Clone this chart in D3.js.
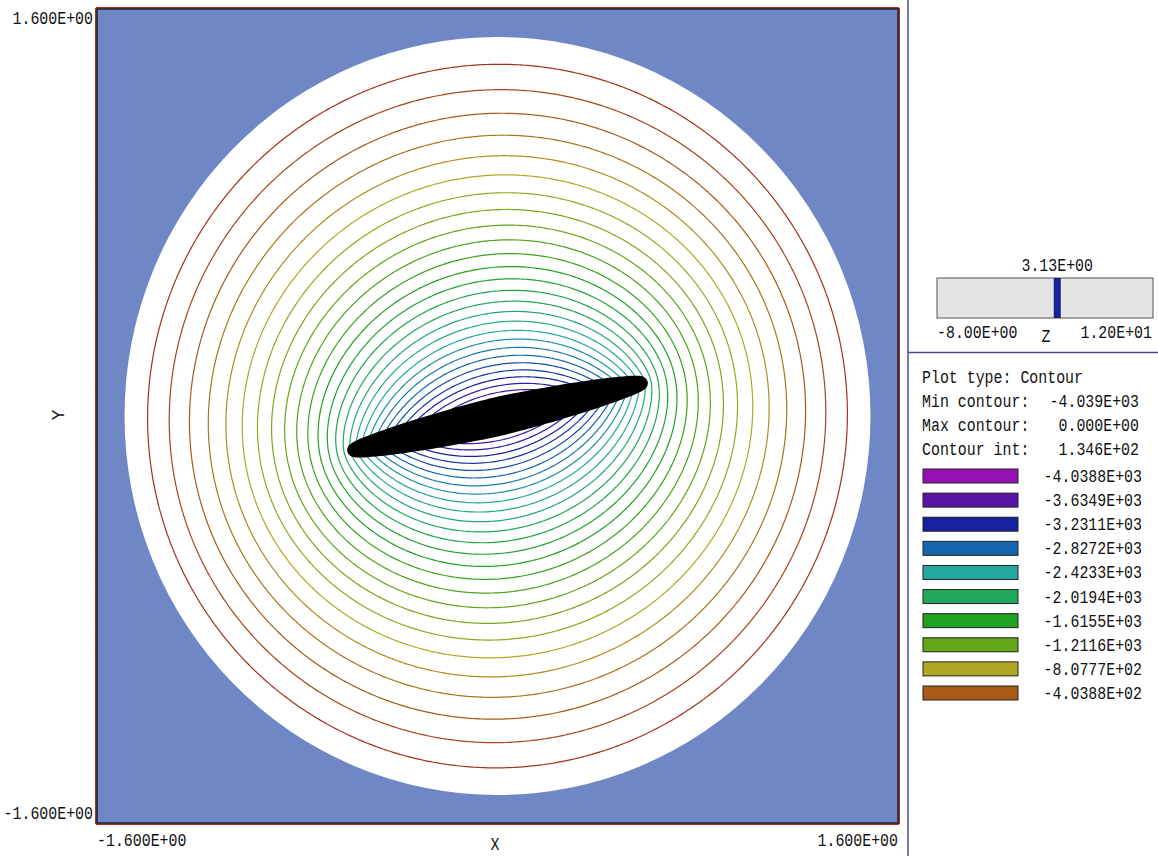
<!DOCTYPE html>
<html>
<head>
<meta charset="utf-8">
<script src="https://cdn.jsdelivr.net/npm/d3@7"></script>
<style>
  html, body { margin: 0; padding: 0; background: #ffffff; }
  svg { display: block; }
  text { font-family: "Liberation Mono", "DejaVu Sans Mono", monospace; font-size: 17.5px; fill: #111111; }
</style>
</head>
<body>
<svg id="chart" width="1158" height="856"></svg>
<script>
// ---- data ----
const xDomain = [-1.6, 1.6];
const yDomain = [-1.6, 1.6];
const xTickLabels = ["-1.600E+00", "1.600E+00"];
const yTickLabels = ["-1.600E+00", "1.600E+00"];

const contourMin = -4038.8;
const contourMax = 0.0;
const contourIntervals = 30;          // contour int = 1.346E+02

const legendValues = [-4038.8, -3634.9, -3231.1, -2827.2, -2423.3, -2019.4, -1615.5, -1211.6, -807.77, -403.88];
const legendLabels = ["-4.0388E+03", "-3.6349E+03", "-3.2311E+03", "-2.8272E+03", "-2.4233E+03",
                      "-2.0194E+03", "-1.6155E+03", "-1.2116E+03", "-8.0777E+02", "-4.0388E+02"];
const legendColors = ["#9412b3", "#5a15a6", "#1621a2", "#1566ae", "#25a8a0",
                      "#22a85c", "#1fa21f", "#63a618", "#b0a822", "#a85a16"];
const zeroLevelColor = "#a31d1d";

const infoLines = [["Plot type: Contour", ""],
                   ["Min contour:", "-4.039E+03"],
                   ["Max contour:", "0.000E+00"],
                   ["Contour int:", "1.346E+02"]];

// grounded circular boundary and the charged beam (tilted line charge)
const boundaryRadius = 1.49;
const beamEnds = [[-0.6, -0.14], [0.6, 0.135]];
const beamHalfWidth = 0.077;

// z slider
const zRange = [-8.0, 12.0];
const zValue = 3.13;
const zLabels = ["-8.00E+00", "1.20E+01", "3.13E+00"];

// ---- layout ----
const svg = d3.select("#chart");
const plot = { left: 97, right: 898, top: 9, bottom: 823 };
const x = d3.scaleLinear().domain(xDomain).range([plot.left, plot.right]);
const y = d3.scaleLinear().domain(yDomain).range([plot.bottom, plot.top]);
const squeeze = 0.852;   // narrow, tall terminal-style glyphs

function label(px, py, str, anchor) {
  return svg.append("text")
    .attr("transform", `translate(${px},${py}) scale(${squeeze},1)`)
    .attr("text-anchor", anchor || "start")
    .text(str);
}

// background of the solution region
svg.append("rect")
  .attr("x", plot.left).attr("y", plot.top)
  .attr("width", plot.right - plot.left).attr("height", plot.bottom - plot.top)
  .attr("fill", "#7087c6");

svg.append("ellipse")
  .attr("cx", x(0)).attr("cy", y(0))
  .attr("rx", x(boundaryRadius) - x(0)).attr("ry", y(0) - y(boundaryRadius))
  .attr("fill", "#ffffff");

// ---- potential field: uniform-ellipse line charge inside a grounded circle ----
const step = 0.01;
const n = Math.round((xDomain[1] - xDomain[0]) / step) + 1;
const R2 = boundaryRadius * boundaryRadius;
const R4 = R2 * R2;
const mid = [(beamEnds[0][0] + beamEnds[1][0]) / 2, (beamEnds[0][1] + beamEnds[1][1]) / 2];
const half = [(beamEnds[1][0] - beamEnds[0][0]) / 2, (beamEnds[1][1] - beamEnds[0][1]) / 2];
const N = 240;
const src = d3.range(N).map(i => {
  const t = -1 + (i + 0.5) * 2 / N;
  return { sx: mid[0] + t * half[0], sy: mid[1] + t * half[1], w: Math.sqrt(1 - t * t) };
});
const wSum = d3.sum(src, d => d.w);
const logR = Math.log(boundaryRadius);

function greenSum(px, py) {
  let acc = 0;
  const p2 = px * px + py * py;
  for (const s of src) {
    const dx = px - s.sx, dy = py - s.sy;
    const d2 = dx * dx + dy * dy;
    const s2 = s.sx * s.sx + s.sy * s.sy;
    const img = s2 * p2 - 2 * R2 * (px * s.sx + py * s.sy) + R4;
    acc += s.w * (0.5 * Math.log(d2) - 0.5 * Math.log(img) + logR);
  }
  return acc / wSum;
}

const scaleA = contourMin / greenSum(mid[0], mid[1]);
const values = new Float64Array(n * n);
for (let j = 0; j < n; j++) {
  const py = yDomain[1] - j * step;
  for (let i = 0; i < n; i++) {
    const px = xDomain[0] + i * step;
    values[j * n + i] = (px * px + py * py >= R2) ? 1 : scaleA * greenSum(px, py);
  }
}

const contourInt = (contourMax - contourMin) / contourIntervals;
const levels = d3.range(1, contourIntervals).map(k => contourMin + k * contourInt);
const contours = d3.contours().size([n, n]).thresholds(levels)(values);

const lineColor = d3.scaleLinear()
  .domain([...legendValues, contourMax])
  .range([...legendColors, zeroLevelColor])
  .clamp(true);

const gridToScreen = d3.geoTransform({
  point: function(gx, gy) {
    this.stream.point(x(xDomain[0] + (gx - 0.5) * step), y(yDomain[1] - (gy - 0.5) * step));
  }
});
const path = d3.geoPath(gridToScreen);

svg.append("g")
  .selectAll("path")
  .data(contours)
  .join("path")
  .attr("d", path)
  .attr("fill", "none")
  .attr("stroke", d => lineColor(d.value))
  .attr("stroke-width", 1.2);

// ---- beam cross-section ----
const angle = Math.atan2(half[1], half[0]);
const halfLen = Math.hypot(half[0], half[1]);
const pad = 7 / (x(1) - x(0));
const outline = d3.range(0, 361, 3).map(deg => {
  const th = deg * Math.PI / 180;
  const c = Math.cos(th), s = Math.sin(th);
  const u = (halfLen - pad) * Math.sign(c) * Math.pow(Math.abs(c), 2 / 1.5);
  const v = (beamHalfWidth - pad) * Math.sign(s) * Math.pow(Math.abs(s), 2 / 1.5);
  return [x(mid[0] + u * Math.cos(angle) - v * Math.sin(angle)),
          y(mid[1] + u * Math.sin(angle) + v * Math.cos(angle))];
});
svg.append("path")
  .attr("d", d3.line()(outline) + "Z")
  .attr("fill", "#000000")
  .attr("stroke", "#000000")
  .attr("stroke-width", 14)
  .attr("stroke-linejoin", "round");

// frame
svg.append("rect")
  .attr("x", plot.left).attr("y", plot.top)
  .attr("width", plot.right - plot.left).attr("height", plot.bottom - plot.top)
  .attr("fill", "none").attr("stroke", "#1e1e3c").attr("stroke-width", 1.5);

// ---- axis labels ----
label(93, 24, yTickLabels[1], "end");
label(93, 819, yTickLabels[0], "end");
label(plot.left, 846, xTickLabels[0]);
label(plot.right, 846, xTickLabels[1], "end");
label(495, 850, "X", "middle");
svg.append("text").attr("transform", "translate(64,415) rotate(-90)")
  .attr("text-anchor", "middle").text("Y");

// ---- side panel ----
const panelX = 908;
svg.append("line").attr("x1", panelX).attr("x2", panelX).attr("y1", 0).attr("y2", 856)
  .attr("stroke", "#4a4a8c").attr("stroke-width", 1.5);
svg.append("line").attr("x1", panelX).attr("x2", 1158).attr("y1", 352.5).attr("y2", 352.5)
  .attr("stroke", "#4a4a8c").attr("stroke-width", 1.5);

const zx = d3.scaleLinear().domain(zRange).range([937, 1153]);
svg.append("rect").attr("x", zx(zRange[0])).attr("y", 278)
  .attr("width", zx(zRange[1]) - zx(zRange[0])).attr("height", 40)
  .attr("fill", "#e4e4e4").attr("stroke", "#555555").attr("stroke-width", 1);
svg.append("rect").attr("x", zx(zValue) - 3).attr("y", 278.5).attr("width", 6).attr("height", 39)
  .attr("fill", "#1422a8").attr("stroke", "#0a0a40").attr("stroke-width", 0.8);
label(zx(zValue), 271, zLabels[2], "middle");
label(zx(zRange[0]), 338, zLabels[0]);
label(zx(zRange[1]) - 1, 338, zLabels[1], "end");
label(1046, 342, "Z", "middle");

infoLines.forEach((row, i) => {
  const by = 383 + i * 24;
  label(922, by, row[0]);
  if (row[1]) label(1139, by, row[1], "end");
});

const legendRow = d3.scaleLinear().domain([0, legendValues.length - 1]).range([476, 693]);
const legend = svg.append("g").selectAll("g").data(legendValues).join("g");
legend.append("rect")
  .attr("x", 923).attr("y", (d, i) => legendRow(i) - 7)
  .attr("width", 95).attr("height", 14)
  .attr("fill", (d, i) => legendColors[i])
  .attr("stroke", "#222222").attr("stroke-width", 1);
legend.each(function(d, i) {
  label(1142, legendRow(i) + 6, legendLabels[i], "end");
});
</script>
</body>
</html>
